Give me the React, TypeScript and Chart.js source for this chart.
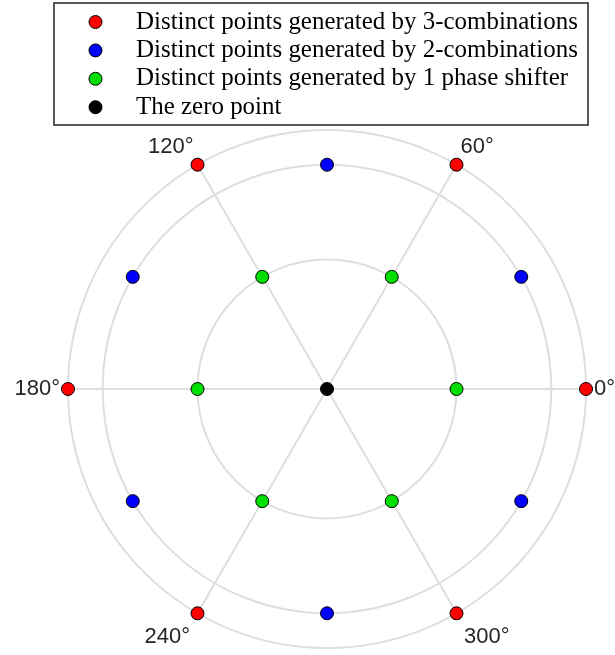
import React, { useEffect, useRef } from "react";
import { Chart, registerables } from "chart.js";

Chart.register(...registerables);

// ---- data ----
const seriesLabels = [
  "Distinct points generated by 3-combinations",
  "Distinct points generated by 2-combinations",
  "Distinct points generated by 1 phase shifter",
  "The zero point",
];
const redAnglesDeg = [0, 60, 120, 180, 240, 300];
const redRadii = [2, 2, 2, 2, 2, 2];
const blueAnglesDeg = [30, 90, 150, 210, 270, 330];
const blueRadii = [1.732, 1.732, 1.732, 1.732, 1.732, 1.732];
const greenAnglesDeg = [0, 60, 120, 180, 240, 300];
const greenRadii = [1, 1, 1, 1, 1, 1];
const zeroAnglesDeg = [0];
const zeroRadii = [0];

const ringRadii = [1, 1.732, 2];
const spokeAnglesDeg = [0, 60, 120, 180, 240, 300];
const thetaTickLabels = ["0°", "60°", "120°", "180°", "240°", "300°"];

const seriesColors = ["#ff0000", "#0000ff", "#00e000", "#000000"];

function toXY(anglesDeg: number[], radii: number[]) {
  return anglesDeg.map((a, i) => {
    const t = (a * Math.PI) / 180;
    return { x: radii[i] * Math.cos(t), y: radii[i] * Math.sin(t) };
  });
}

const W = 615;
const H = 655;

const polarGrid = {
  id: "polarGrid",
  beforeDatasetsDraw(chart: any) {
    const ctx = chart.ctx as CanvasRenderingContext2D;
    const xs = chart.scales.x;
    const ys = chart.scales.y;
    const cx = xs.getPixelForValue(0);
    const cy = ys.getPixelForValue(0);
    const unit = xs.getPixelForValue(1) - cx;
    const rMax = Math.max(...ringRadii);
    ctx.save();
    ctx.strokeStyle = "#dedede";
    ctx.lineWidth = 2;
    for (const r of ringRadii) {
      ctx.beginPath();
      ctx.arc(cx, cy, r * unit, 0, Math.PI * 2);
      ctx.stroke();
    }
    for (const a of spokeAnglesDeg) {
      const t = (a * Math.PI) / 180;
      ctx.beginPath();
      ctx.moveTo(cx, cy);
      ctx.lineTo(cx + rMax * unit * Math.cos(t), cy - rMax * unit * Math.sin(t));
      ctx.stroke();
    }
    // theta labels
    ctx.fillStyle = "#262626";
    ctx.font = '22px "Liberation Sans", Arial, sans-serif';
    spokeAnglesDeg.forEach((a, i) => {
      const t = (a * Math.PI) / 180;
      const c = Math.cos(t);
      const s = Math.sin(t);
      const off = s < -0.1 ? 15 : 8;
      const px = cx + (rMax * unit + off) * c;
      const py = cy - (rMax * unit + off) * s;
      ctx.textAlign = c > 0.1 ? "left" : c < -0.1 ? "right" : "center";
      ctx.textBaseline = s > 0.1 ? "bottom" : s < -0.1 ? "top" : "middle";
      ctx.fillText(thetaTickLabels[i], px, py);
    });
    ctx.restore();
  },
  afterDraw(chart: any) {
    const ctx = chart.ctx as CanvasRenderingContext2D;
    const boxL = 54;
    const boxR = 588;
    const boxT = 3;
    const boxB = 125;
    ctx.save();
    ctx.fillStyle = "#ffffff";
    ctx.fillRect(boxL, boxT, boxR - boxL, boxB - boxT);
    ctx.strokeStyle = "#262626";
    ctx.lineWidth = 1.5;
    ctx.strokeRect(boxL, boxT, boxR - boxL, boxB - boxT);
    // fit serif font so longest label is ~442px wide
    let size = 20;
    ctx.font = `${size}px "Liberation Serif", "DejaVu Serif", serif`;
    const widest = Math.max(...seriesLabels.map((l) => ctx.measureText(l).width));
    size = (size * 442) / widest;
    ctx.font = `${size}px "Liberation Serif", "DejaVu Serif", serif`;
    seriesLabels.forEach((label, i) => {
      const y = 22 + i * 28.4;
      ctx.beginPath();
      ctx.arc(95.5, y, 6.5, 0, Math.PI * 2);
      ctx.fillStyle = seriesColors[i];
      ctx.fill();
      ctx.lineWidth = 1;
      ctx.strokeStyle = "#000000";
      ctx.stroke();
      ctx.fillStyle = "#000000";
      ctx.textAlign = "left";
      ctx.textBaseline = "middle";
      ctx.fillText(label, 136, y);
    });
    ctx.restore();
  },
};

export default function App() {
  const ref = useRef<HTMLCanvasElement | null>(null);
  useEffect(() => {
    document.body.style.margin = "0";
    const canvas = ref.current!;
    const cxPx = 327;
    const cyPx = 389;
    const unit = 129.5;
    const makeDs = (i: number, data: { x: number; y: number }[]) => ({
      label: seriesLabels[i],
      data,
      backgroundColor: seriesColors[i],
      borderColor: "#000000",
      borderWidth: 1,
      pointRadius: 6.5,
      pointHoverRadius: 6.5,
      showLine: false,
    });
    const chart = new Chart(canvas, {
      type: "scatter",
      data: {
        datasets: [
          makeDs(0, toXY(redAnglesDeg, redRadii)),
          makeDs(1, toXY(blueAnglesDeg, blueRadii)),
          makeDs(2, toXY(greenAnglesDeg, greenRadii)),
          makeDs(3, toXY(zeroAnglesDeg, zeroRadii)),
        ],
      },
      options: {
        responsive: false,
        animation: false,
        layout: { padding: 0, autoPadding: false },
        plugins: { legend: { display: false }, tooltip: { enabled: false } },
        scales: {
          x: { type: "linear", display: false, min: -cxPx / unit, max: (W - cxPx) / unit },
          y: { type: "linear", display: false, min: -(H - cyPx) / unit, max: cyPx / unit },
        },
      },
      plugins: [polarGrid],
    });
    return () => chart.destroy();
  }, []);
  return <canvas ref={ref} width={W} height={H} style={{ display: "block" }} />;
}
